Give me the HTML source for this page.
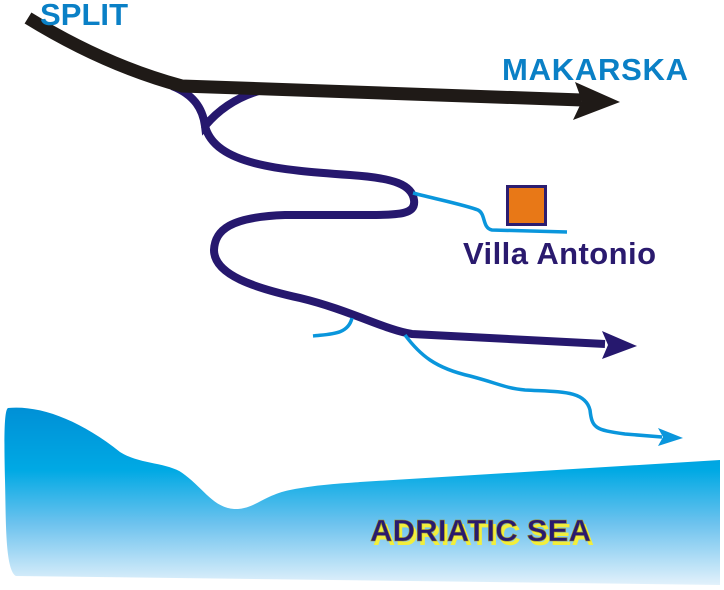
<!DOCTYPE html>
<html><head><meta charset="utf-8"><style>
html,body{margin:0;padding:0;background:#fff;width:724px;height:590px;overflow:hidden}
svg{display:block}
</style></head><body>
<svg width="724" height="590" viewBox="0 0 724 590" xmlns="http://www.w3.org/2000/svg">
<defs>
<linearGradient id="sea" x1="0" y1="408" x2="0" y2="585" gradientUnits="userSpaceOnUse">
<stop offset="0" stop-color="#0090d6"/>
<stop offset="0.35" stop-color="#00a9e4"/>
<stop offset="0.65" stop-color="#6cc2ee"/>
<stop offset="1" stop-color="#e2f1fb"/>
</linearGradient>
</defs>
<path d="M8,408 C40,405 80,420 120,452 C140,465 170,462 185,475 C205,490 215,510 238,509 C255,508 265,495 290,490 C320,484 350,483 360,482 L720,460 L720,585 L16,576 C5,570 6,520 5,480 C4,440 4,410 8,408 Z" fill="url(#sea)"/>
<g fill="none" stroke="#26186e" stroke-width="8" stroke-linecap="butt">
<path d="M172,86 C195,95 203,110 205,126 C220,108 240,96 262,90"/>
<path d="M205,126 C215,165 280,170 350,175 C395,178 412,185 414,200 C416,214 400,215 370,215 L285,215 C230,217 215,230 214,250 C214,275 255,288 300,298 C350,310 385,330 412,334 L605,344"/>
</g>
<polygon points="637,346 602,331 608,345 602,359" fill="#26186e"/>
<g fill="none" stroke="#0a96dc" stroke-width="3.5">
<path d="M413,193 C440,200 465,205 478,210 C486,214 482,228 492,230 L567,232"/>
<path d="M313,336 C330,334 348,335 352,318"/>
<path d="M405,335 C420,355 435,368 470,376 C500,384 505,388 525,390 C560,392 585,390 590,410 C592,428 595,430 625,434 L662,437"/>
</g>
<polygon points="683,438 658,428 663,437 658,446" fill="#0a96dc"/>
<g fill="none" stroke="#1f1a17" stroke-width="13">
<path d="M28,18 C80,50 130,72 182,86 L582,100"/>
</g>
<polygon points="620,102 575,82 582,101 573,120" fill="#1f1a17"/>
<rect x="507.5" y="186.5" width="38" height="38" fill="#e87817" stroke="#2c1d70" stroke-width="3"/>
<g font-family="Liberation Sans, sans-serif" font-weight="bold" font-size="31">
<text x="40" y="25" textLength="88" fill="#0a80c6">SPLIT</text>
<text x="502" y="80" textLength="186" fill="#0a80c6">MAKARSKA</text>
<text x="463" y="264" textLength="193" fill="#2a1a6e">Villa Antonio</text>
<text x="373" y="545" textLength="221" fill="#f2ee3c">ADRIATIC SEA</text>
<text x="370" y="541" textLength="221" fill="#2a1a6e" stroke="#a09020" stroke-width="0.6">ADRIATIC SEA</text>
</g>
</svg>
</body></html>
